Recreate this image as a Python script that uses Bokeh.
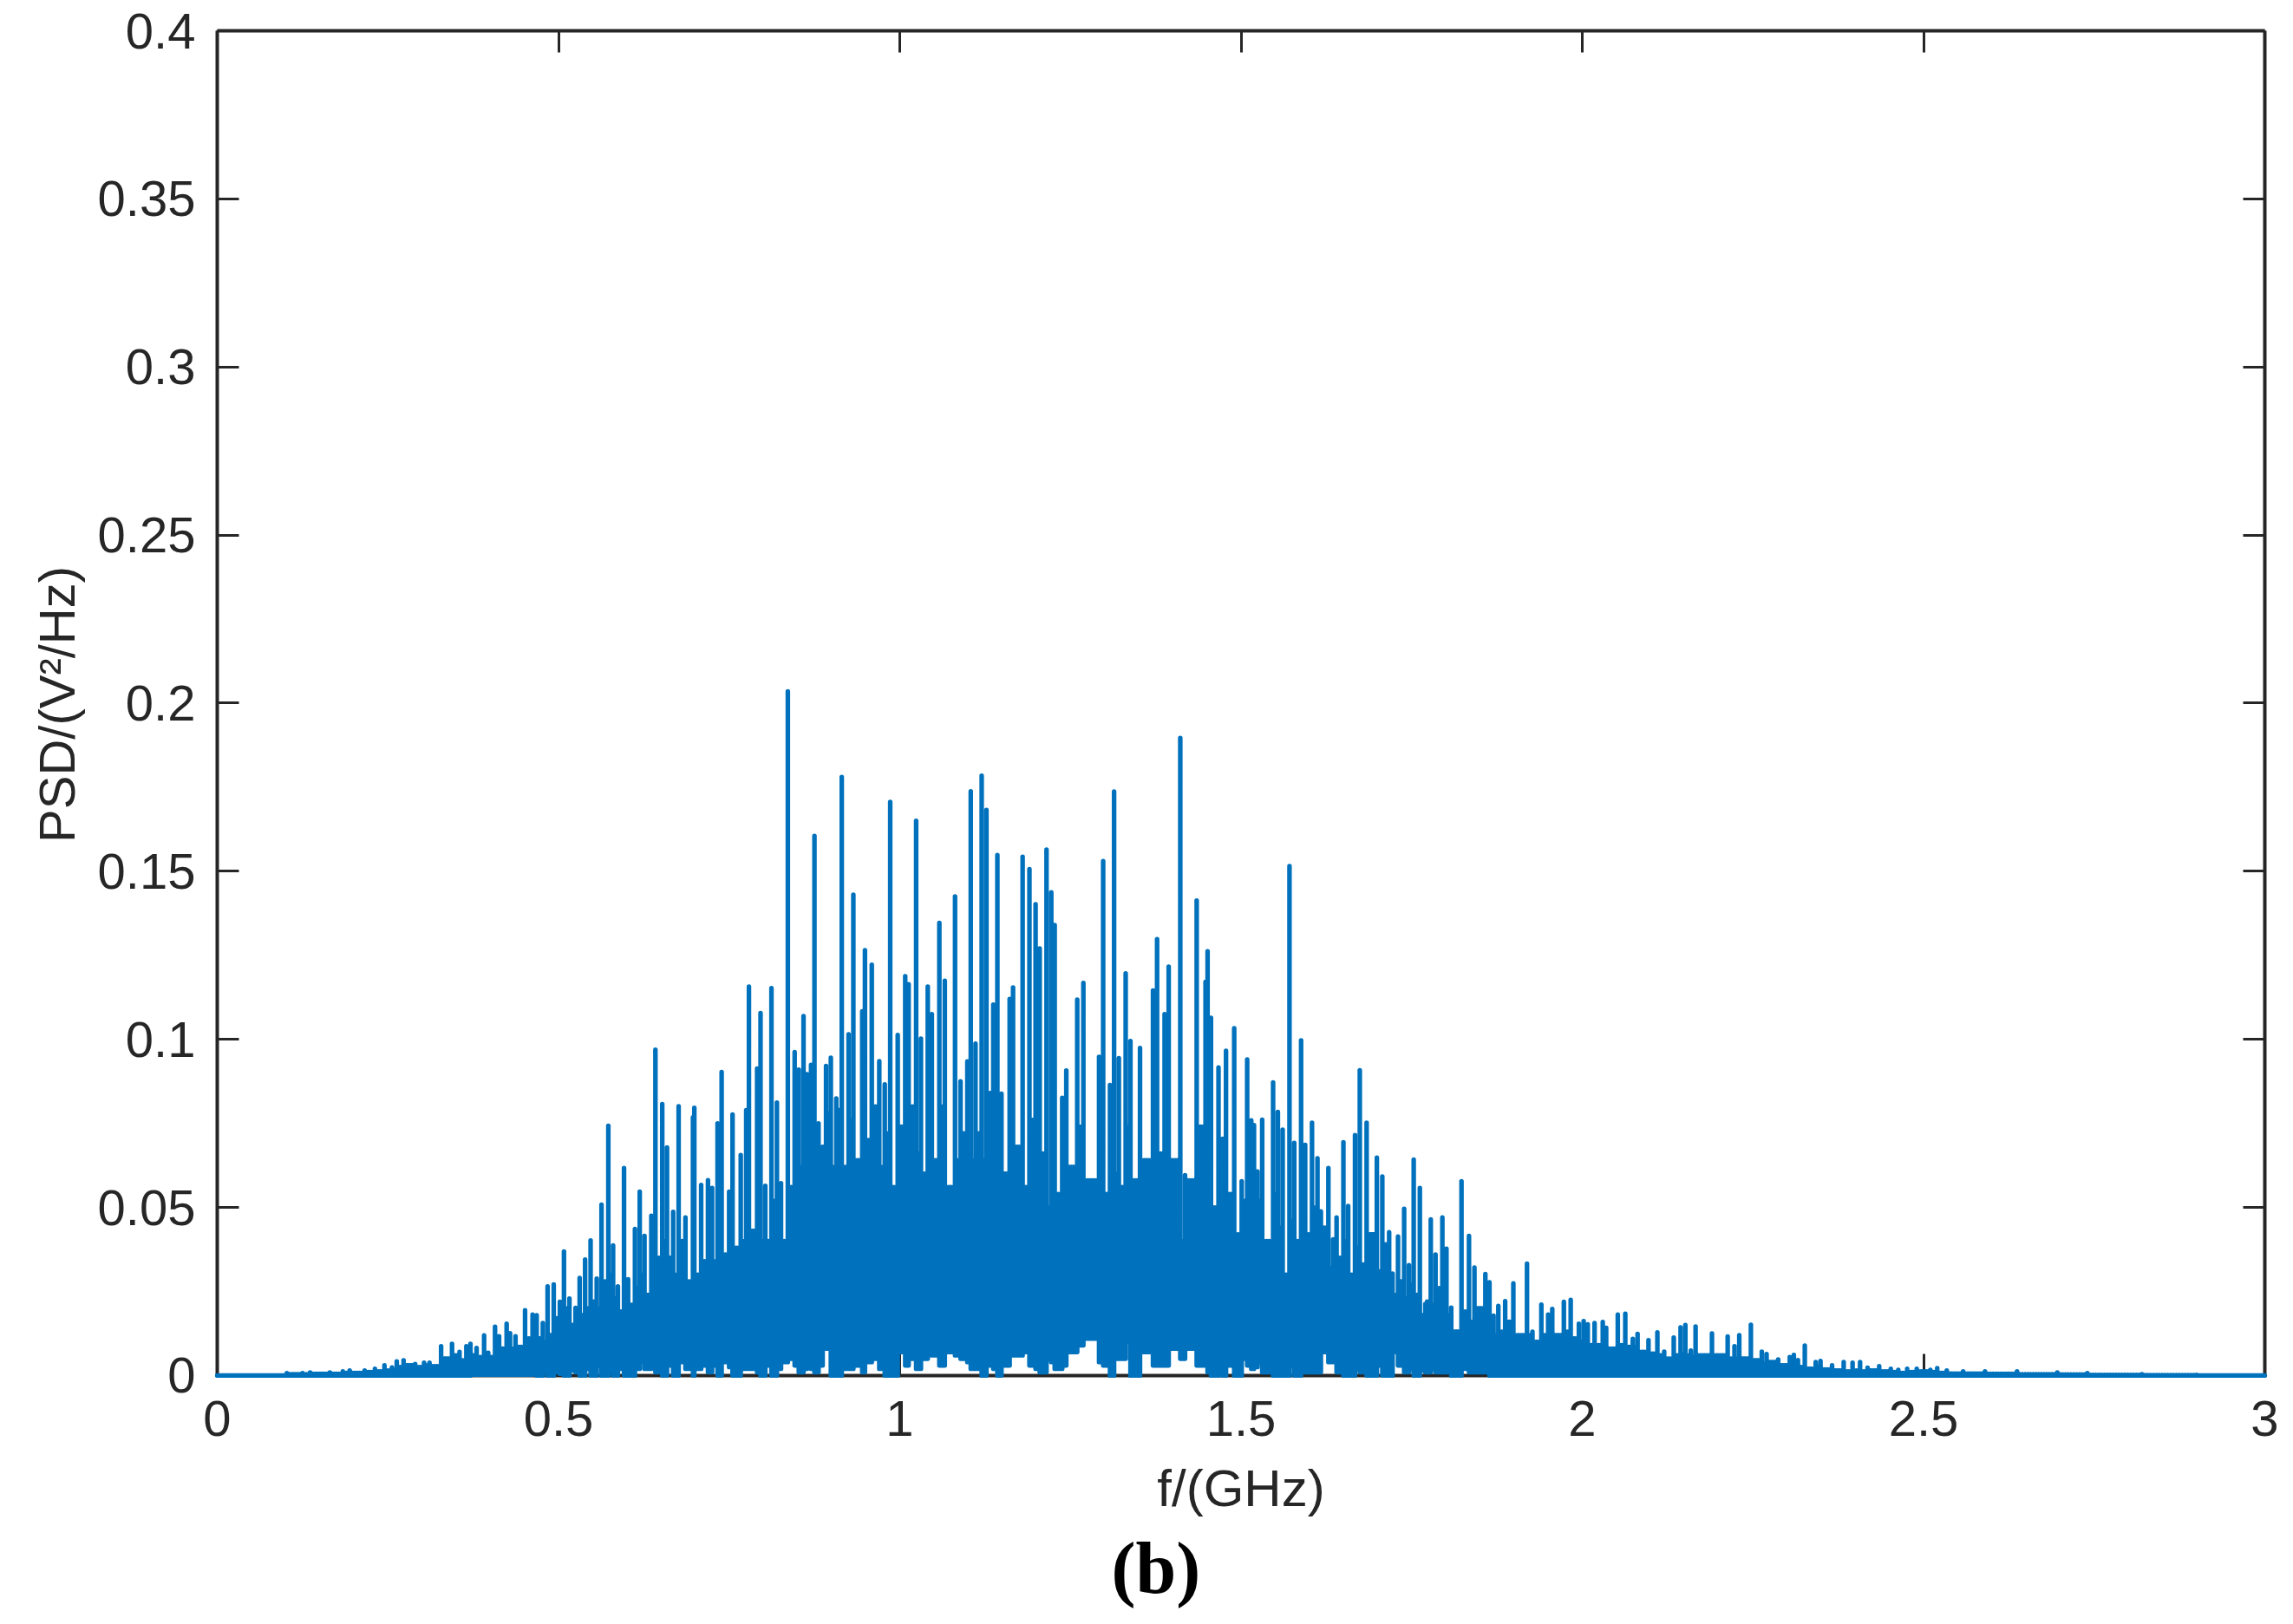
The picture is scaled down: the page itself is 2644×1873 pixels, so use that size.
import math

from bokeh.embed import file_html
from bokeh.resources import INLINE
from bokeh.plotting import figure
from bokeh.models import ColumnDataSource, FixedTicker, LinearAxis, Range1d, Title

x_ticks = [0, 0.5, 1, 1.5, 2, 2.5, 3]
x_tick_labels = ["0", "0.5", "1", "1.5", "2", "2.5", "3"]
y_ticks = [0, 0.05, 0.1, 0.15, 0.2, 0.25, 0.3, 0.35, 0.4]
y_tick_labels = ["0", "0.05", "0.1", "0.15", "0.2", "0.25", "0.3", "0.35", "0.4"]
x_title = "f/(GHz)"
y_title = "PSD/(V\u00b2/Hz)"
panel_tag = "(b)"

# frequency of each tall spike, GHz
peak_f = [
    0.0, .102, .125, .136, .165, .184, .194, .216, .231, .245,
    .256, .263, .273, .290, .303, .311, .328, .344, .355, .365,
    .371, .380, .391, .397, .407, .413, .424, .429, .437, .451,
    .462, .468, .477, .484, .493, .502, .508, .516, .525, .531,
    .539, .547, .556, .563, .573, .580, .587, .596, .602, .612,
    .619, .626, .636, .642, .652, .659, .668, .676, .686, .697,
    .699, .709, .719, .725, .733, .739, .750, .755, .767, .775,
    .779, .791, .796, .803, .812, .820, .826, .836, .846, .852,
    .859, .864, .870, .875, .881, .887, .892, .899, .907, .915,
    .925, .932, .945, .949, .959, .970, .978, .986, .997, 1.008,
    1.013, 1.024, 1.031, 1.041, 1.047, 1.058, 1.066, 1.081, 1.089, 1.099,
    1.104, 1.111, 1.120, 1.127, 1.137, 1.143, 1.149, 1.161, 1.166, 1.180,
    1.190, 1.199, 1.205, 1.215, 1.222, 1.227, 1.238, 1.244, 1.260, 1.269,
    1.292, 1.298, 1.308, 1.314, 1.321, 1.331, 1.338, 1.352, 1.371, 1.377,
    1.388, 1.394, 1.411, 1.418, 1.435, 1.448, 1.451, 1.456, 1.467, 1.473,
    1.478, 1.490, 1.501, 1.509, 1.515, 1.519, 1.524, 1.531, 1.547, 1.554,
    1.561, 1.571, 1.578, 1.588, 1.594, 1.604, 1.612, 1.617, 1.628, 1.635,
    1.640, 1.650, 1.657, 1.667, 1.674, 1.684, 1.699, 1.707, 1.717, 1.722,
    1.730, 1.739, 1.746, 1.753, 1.762, 1.770, 1.778, 1.785, 1.795, 1.801,
    1.808, 1.823, 1.834, 1.842, 1.858, 1.864, 1.870, 1.877, 1.887, 1.899,
    1.919, 1.927, 1.940, 1.950, 1.956, 1.973, 1.983, 1.995, 2.002, 2.008,
    2.018, 2.030, 2.035, 2.052, 2.063, 2.074, 2.081, 2.097, 2.110, 2.120,
    2.134, 2.144, 2.151, 2.159, 2.166, 2.190, 2.213, 2.223, 2.230, 2.247,
    2.263, 2.270, 2.287, 2.304, 2.310, 2.316, 2.326, 2.342, 2.349, 2.366,
    2.383, 2.396, 2.407, 2.418, 2.435, 2.452, 2.463, 2.476, 2.490, 2.510,
    2.520, 2.534, 2.558, 2.590, 2.637, 2.696, 2.740, 2.820, 2.900, 3.0,
]
# height of each tall spike, V^2/Hz
peak_v = [
    0, .0007, .0007, .0009, .0009, .0012, .0015, .0015, .0020, .0030,
    .0024, .0042, .0045, .0034, .0038, .0038, .0087, .0094, .0070, .0087,
    .0094, .0082, .0119, .0068, .0145, .0117, .0154, .0126, .0117, .0194,
    .0181, .0179, .0156, .0265, .0271, .0219, .0369, .0229, .0201, .0290,
    .0345, .0402, .0288, .0508, .0743, .0387, .0265, .0617, .0286, .0436,
    .0547, .0415, .0475, .0969, .0807, .0678, .0487, .0801, .0470, .0768,
    .0796, .0567, .0581, .0558, .0750, .0903, .0547, .0776, .0656, .0789,
    .1157, .0913, .1078, .0564, .1152, .0812, .0572, .2035, .0962, .0910,
    .1069, .0896, .0924, .1605, .0750, .0680, .0921, .0945, .0824, .1780,
    .1015, .1430, .1083, .1265, .1222, .0935, .0866, .1706, .1013, .1188,
    .1164, .1650, .1002, .1157, .1075, .1346, .1174, .1425, .0875, .0934,
    .1738, .0987, .1784, .1682, .1103, .1548, .0838, .1120, .1154, .1543,
    .1506, .1402, .1270, .1564, .1437, .1340, .0826, .0907, .1118, .1168,
    .0948, .1530, .0864, .1737, .0944, .1196, .0995, .0974, .1145, .1298,
    .1075, .1216, .1896, .0596, .1413, .1171, .1262, .1064, .0916, .0704,
    .0966, .1033, .0578, .0940, .0759, .0745, .0607, .0761, .0872, .0784,
    .0731, .1515, .0692, .0997, .0686, .0752, .0646, .0488, .0617, .0405,
    .0470, .0694, .0504, .0715, .0908, .0752, .0648, .0592, .0426, .0303,
    .0413, .0496, .0328, .0642, .0558, .0213, .0464, .0360, .0470, .0377,
    .0202, .0578, .0415, .0321, .0302, .0277, .0178, .0207, .0221, .0274,
    .0333, .0130, .0211, .0181, .0198, .0219, .0225, .0154, .0162, .0152,
    .0156, .0159, .0142, .0181, .0184, .0109, .0124, .0105, .0128, .0071,
    .0113, .0143, .0150, .0074, .0146, .0125, .0116, .0087, .0120, .0151,
    .0071, .0064, .0048, .0055, .0061, .0046, .0089, .0040, .0043, .0030,
    .0040, .0038, .0040, .0023, .0028, .0020, .0017, .0020, .0020, .0017,
    .0022, .0015, .0012, .0012, .0012, .0009, .0007, .0004, .0002, 0,
]
# level of the dense body just after each spike
shoulder_v = [
    0, .0004, .0004, .0005, .0005, .0008, .0008, .0010, .0012, .0015,
    .0015, .0025, .0030, .0025, .0030, .0028, .0050, .0060, .0045, .0050,
    .0060, .0055, .0060, .0055, .0090, .0080, .0095, .0080, .0085, .0110,
    .0090, .0110, .0100, .0120, .0170, .0150, .0200, .0150, .0140, .0180,
    .0200, .0220, .0200, .0280, .0300, .0230, .0190, .0280, .0210, .0260,
    .0300, .0240, .0280, .0350, .0400, .0350, .0300, .0400, .0280, .0400,
    .0300, .0340, .0350, .0340, .0400, .0360, .0300, .0380, .0400, .0450,
    .0430, .0560, .0400, .0400, .0520, .0450, .0400, .0560, .0640, .0620,
    .0700, .0580, .0730, .0600, .0520, .0660, .0780, .0620, .0790, .0620,
    .0760, .0640, .0860, .0700, .0800, .0620, .0720, .0560, .0740, .0640,
    .0800, .0660, .0600, .0780, .0640, .0800, .0560, .0640, .0720, .0820,
    .0640, .0720, .0640, .0840, .0680, .0760, .0600, .0540, .0680, .0560,
    .0760, .0600, .0660, .0500, .0720, .0540, .0760, .0620, .0740, .0580,
    .0680, .0540, .0760, .0600, .0560, .0740, .0580, .0640, .0500, .0660,
    .0520, .0640, .0400, .0580, .0740, .0540, .0620, .0500, .0580, .0440,
    .0540, .0420, .0520, .0480, .0540, .0430, .0520, .0400, .0540, .0440,
    .0300, .0460, .0400, .0500, .0420, .0500, .0380, .0440, .0320, .0400,
    .0350, .0400, .0300, .0380, .0330, .0420, .0310, .0390, .0270, .0240,
    .0280, .0230, .0270, .0240, .0180, .0220, .0210, .0260, .0220, .0180,
    .0130, .0190, .0160, .0200, .0150, .0140, .0120, .0130, .0160, .0120,
    .0120, .0100, .0120, .0110, .0120, .0130, .0110, .0100, .0100, .0090,
    .0090, .0090, .0080, .0090, .0085, .0085, .0070, .0065, .0060, .0050,
    .0060, .0065, .0060, .0055, .0060, .0060, .0050, .0050, .0050, .0045,
    .0035, .0040, .0030, .0035, .0030, .0025, .0020, .0025, .0018, .0015,
    .0012, .0015, .0012, .0015, .0012, .0010, .0008, .0010, .0012, .0010,
    .0008, .0006, .0006, .0005, .0004, .0003, .0002, .0001, 0, 0,
]
# lower edge of the trace around each spike
floor_v = [
    0, 0, 0, 0, 0, 0, 0, 0, 0, 0,
    0, 0, 0, 0, 0, 0, 0, 0, 0, 0,
    .0003, .0003, .0003, .0003, .0003, .0003, .0003, .0003, .0003, .0003,
    .0005, 0, .001, 0, .001, .0005, 0, .0015, .001, 0,
    .002, 0, .003, 0, .001, 0, .002, 0, 0, .002,
    .004, .002, .003, .001, 0, .003, 0, .004, .002, 0,
    .002, .003, .001, .003, 0, .004, .0025, 0, .002, .003,
    .002, .001, 0, .003, 0, .002, .004, .005, .003, .001,
    .002, .003, .002, .001, .003, .009, .008, 0, 0, .002,
    .002, .003, .001, .004, .005, .002, 0, 0, .007, .003,
    .005, .002, .005, .008, .006, .003, .007, .006, .005, .004,
    .002, .002, 0, .003, .002, 0, .003, .009, .006, .007,
    .003, .002, .001, .005, .004, .002, .003, .007, .009, .011,
    .004, .003, 0, .005, .005, .010, 0, .007, .003, .003,
    .003, .008, .005, .008, .003, .005, .001, 0, .002, 0,
    .003, 0, .005, .003, .002, .0025, .004, .001, 0, 0,
    0, .003, 0, .004, .001, .001, .001, .007, .004, .004,
    .001, 0, 0, .002, .001, 0, .003, 0, 0, .007,
    .003, .001, .002, 0, .0015, .001, .002, .001, .001, .001,
    0, .002, .001, .001, .001, 0, 0, 0, 0, 0,
    0, 0, 0, 0, 0, 0, 0, 0, 0, 0,
    0, 0, 0, 0, 0, 0, 0, 0, 0, 0,
    0, 0, 0, 0, 0, 0, 0, 0, 0, 0,
    0, 0, 0, 0, 0, 0, 0, 0, 0, 0,
    0, 0, 0, 0, 0, 0, 0, 0, 0, 0,
    0, 0, 0, 0, 0, 0, 0, 0, 0, 0,
]

INK = "#262626"
BLUE = "#0071BC"
FONT = "Liberation Sans"

# Walk the spikes left to right; between two spikes the trace stays dense at the
# body level, so the stroke closes up as it does in the original.
trace_f, trace_v = [], []
for i, f in enumerate(peak_f):
    trace_f += [f, f]
    trace_v += [peak_v[i], floor_v[i]]
    if i + 1 < len(peak_f):
        nxt = peak_f[i + 1]
        columns = max(1, math.ceil((nxt - f) / 0.0045))
        for c in range(1, columns + 1):
            m = f + (nxt - f) * c / (columns + 1)
            trace_f += [m, m, m]
            trace_v += [floor_v[i], shoulder_v[i], floor_v[i]]
        trace_f.append(nxt)
        trace_v.append(floor_v[i])

p = figure(
    width=2640, height=1870, output_backend="svg", toolbar_location=None,
    x_range=Range1d(0, 3), y_range=Range1d(-0.0008, 0.4),
    min_border_left=250, min_border_right=29, min_border_top=35, min_border_bottom=281,
    outline_line_color=None, background_fill_color="white", border_fill_color="white",
)
p.grid.visible = False

p.line(
    "f", "v", source=ColumnDataSource(dict(f=trace_f, v=trace_v)),
    line_color=BLUE, line_width=5.3, line_join="round", line_cap="round", level="overlay",
)

xt = FixedTicker(ticks=x_ticks)
yt = FixedTicker(ticks=y_ticks)
xl = dict(zip(x_ticks, x_tick_labels))
yl = dict(zip(y_ticks, y_tick_labels))


def style(ax, ticker, labels, width=4):
    ax.ticker = ticker
    ax.major_label_overrides = labels
    ax.axis_line_color = INK
    ax.axis_line_width = width
    ax.major_tick_line_color = INK
    ax.major_tick_line_width = 3
    ax.major_tick_in = 25
    ax.major_tick_out = 0
    ax.minor_tick_line_color = None
    ax.major_label_text_color = INK
    ax.major_label_text_font = FONT
    ax.major_label_text_font_size = "58px"
    ax.axis_label_text_color = INK
    ax.axis_label_text_font = FONT
    ax.axis_label_text_font_style = "normal"
    ax.axis_label_text_font_size = "60px"


# labelled bottom axis: its line and ticks are drawn by the zero-line axis below
style(p.xaxis[0], xt, xl)
p.xaxis[0].axis_label = x_title
p.xaxis[0].major_label_standoff = 26
p.xaxis[0].axis_label_standoff = 24
p.xaxis[0].axis_line_color = None
p.xaxis[0].major_tick_line_color = None

zero_line = LinearAxis(fixed_location=0)
style(zero_line, xt, {t: "" for t in x_ticks})
zero_line.major_label_text_font_size = "0px"
zero_line.bounds = (0, 3)
p.add_layout(zero_line, "below")

style(p.yaxis[0], yt, yl)
p.yaxis[0].axis_label = y_title
p.yaxis[0].axis_label_text_font_size = "58px"
p.yaxis[0].major_label_standoff = 25
p.yaxis[0].axis_label_standoff = 12
p.yaxis[0].bounds = (0, 0.4)
p.yaxis[0].major_label_orientation = "horizontal"

top = LinearAxis()
style(top, xt, {t: "" for t in x_ticks})
top.major_label_text_font_size = "0px"
p.add_layout(top, "above")

right = LinearAxis()
style(right, yt, {t: "" for t in y_ticks})
right.major_label_text_font_size = "0px"
right.bounds = (0, 0.4)
p.add_layout(right, "right")

p.add_layout(Title(
    text=panel_tag, align="left", offset=1031, standoff=14,
    text_font="Liberation Serif", text_font_style="bold", text_font_size="84px",
    text_color="black",
), "below")

open("out.html", "w").write(file_html(p, INLINE))
